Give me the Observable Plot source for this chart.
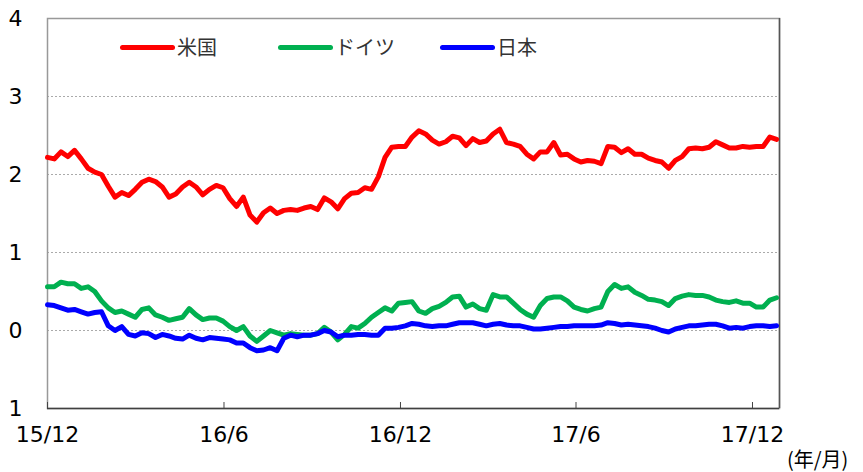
<!DOCTYPE html>
<html><head><meta charset="utf-8">
<script src="https://cdn.jsdelivr.net/npm/d3@7"></script>
<script src="https://cdn.jsdelivr.net/npm/@observablehq/plot@0.6"></script>
<style>
body{margin:0;background:#fff;}
#wrap{position:relative;width:863px;height:472px;overflow:hidden;background:#fff;}
.lg-line{position:absolute;height:5px;border-radius:3px;width:55px;}
.lg-text{position:absolute;font-family:"Noto Sans CJK JP",sans-serif;font-size:20px;color:#333;line-height:24px;}
#unit{position:absolute;left:787px;top:447px;font-family:"Noto Sans CJK JP",sans-serif;font-size:20px;color:#000;line-height:24px;white-space:nowrap;}
</style></head><body><div id="wrap"></div>
<script>
// weekly samples starting at startDate
const startDate = "2015-12-01";
const xEnd = "2017-12-29";
const usa = [2.22,2.20,2.29,2.23,2.31,2.20,2.08,2.03,2.00,1.85,1.71,1.77,1.73,1.81,1.90,1.94,1.91,1.84,1.71,1.75,1.84,1.90,1.84,1.74,1.81,1.86,1.83,1.69,1.59,1.71,1.48,1.39,1.51,1.57,1.50,1.54,1.55,
 1.54,1.57,1.59,1.55,1.70,1.65,1.56,1.69,1.76,1.77,1.83,1.81,1.97,2.22,2.35,2.36,2.36,2.48,2.56,2.52,2.44,2.39,2.42,2.49,2.47,2.37,2.46,2.41,2.43,2.52,2.58,2.41,2.39,2.36,2.26,2.20,
 2.29,2.29,2.41,2.25,2.26,2.20,2.16,2.18,2.17,2.14,2.36,2.35,2.28,2.33,2.26,2.26,2.21,2.18,2.16,2.08,2.18,2.23,2.33,2.34,2.33,2.35,2.42,2.38,2.34,2.34,2.36,2.35,2.36,2.36,2.48,2.45];
const germany = [0.56,0.56,0.62,0.60,0.60,0.54,0.56,0.50,0.38,0.29,0.23,0.25,0.21,0.17,0.27,0.29,0.20,0.17,0.13,0.15,0.17,0.28,0.20,0.14,0.16,0.16,0.12,0.05,0.00,0.05,-0.07,-0.14,-0.07,0.00,-0.03,-0.06,-0.04,
 -0.05,-0.06,-0.06,-0.04,0.04,-0.02,-0.12,-0.05,0.05,0.03,0.09,0.17,0.23,0.29,0.25,0.35,0.36,0.37,0.25,0.22,0.28,0.31,0.36,0.43,0.44,0.30,0.34,0.28,0.26,0.46,0.43,0.43,0.35,0.27,0.21,0.17,
 0.32,0.41,0.43,0.43,0.38,0.30,0.27,0.25,0.28,0.30,0.50,0.59,0.54,0.56,0.49,0.45,0.40,0.39,0.37,0.32,0.41,0.44,0.46,0.45,0.45,0.43,0.39,0.37,0.36,0.38,0.35,0.35,0.30,0.30,0.39,0.42];
const japan = [0.33,0.32,0.29,0.26,0.27,0.24,0.21,0.23,0.24,0.06,0.00,0.05,-0.05,-0.07,-0.03,-0.04,-0.09,-0.05,-0.07,-0.10,-0.11,-0.06,-0.10,-0.12,-0.09,-0.10,-0.11,-0.12,-0.16,-0.16,-0.22,-0.26,-0.25,-0.22,-0.26,-0.10,-0.06,
 -0.08,-0.06,-0.06,-0.04,0.00,-0.02,-0.08,-0.06,-0.06,-0.05,-0.05,-0.06,-0.06,0.03,0.03,0.04,0.06,0.09,0.08,0.06,0.05,0.06,0.06,0.08,0.10,0.10,0.10,0.08,0.06,0.08,0.09,0.07,0.06,0.06,0.04,0.02,
 0.02,0.03,0.04,0.05,0.05,0.06,0.06,0.06,0.06,0.07,0.10,0.09,0.07,0.08,0.07,0.06,0.05,0.03,0.00,-0.02,0.02,0.04,0.06,0.06,0.07,0.08,0.08,0.06,0.03,0.04,0.03,0.05,0.06,0.06,0.05,0.06];
const seriesNames = ["米国","ドイツ","日本"];
const seriesColors = ["#ff0000","#00b050","#0000ff"];
const xTicks = ["2015-12-01","2016-06-01","2016-12-01","2017-06-01","2017-12-01"];
const xTickLabels = ["15/12","16/6","16/12","17/6","17/12"];
const yTicks = [-1,0,1,2,3,4];
const yTickLabels = ["1","0","1","2","3","4"];
const gridTicks = [0,1,2,3];

const start = new Date(startDate);
const seriesValues = [usa, germany, japan];
const rows = [];
seriesValues.forEach((vals, si) => vals.forEach((v, i) => rows.push({name: seriesNames[si], date: d3.utcDay.offset(start, 7 * i), value: v})));
const xTickDates = xTicks.map(d => new Date(d));
const xLab = new Map(xTickDates.map((d, i) => [+d, xTickLabels[i]]));
const yLab = new Map(yTicks.map((d, i) => [d, yTickLabels[i]]));

const chart = Plot.plot({
  width: 863, height: 472,
  marginLeft: 47, marginRight: 84, marginTop: 18, marginBottom: 64,
  style: {fontFamily: "DejaVu Sans, sans-serif", fontSize: "22px", color: "#000", background: "#fff", overflow: "visible"},
  x: {type: "utc", domain: [start, new Date(xEnd)]},
  y: {domain: [-1, 4]},
  color: {domain: seriesNames, range: seriesColors},
  marks: [
    Plot.gridY(gridTicks, {stroke: "#aaa", strokeOpacity: 1, strokeDasharray: "2,2"}),
    Plot.frame({stroke: "#999", strokeWidth: 1.5}),
    Plot.ruleY([-1], {stroke: "#404040", strokeWidth: 1.5}),
    Plot.ruleX([new Date(xEnd)], {stroke: "#555", strokeWidth: 1.5}),
    Plot.tickX(xTickDates, {x: d => d, insetTop: 384, stroke: "#444"}),
    Plot.axisX({ticks: xTickDates, tickSize: 0, tickPadding: 18, label: null, tickFormat: d => xLab.get(+d), fontSize: 22}),
    Plot.axisY({ticks: yTicks, tickSize: 0, tickPadding: 25, label: null, tickFormat: d => yLab.get(d), fontSize: 22}),
    Plot.lineY(rows, {x: "date", y: "value", z: "name", stroke: "name", strokeWidth: 5, strokeLinejoin: "round", strokeLinecap: "round"})
  ]
});
const wrap = document.getElementById("wrap");
wrap.appendChild(chart);

const lgX = [120, 278, 440];
seriesNames.forEach((n, i) => {
  const l = document.createElement("div");
  l.className = "lg-line";
  l.style.left = lgX[i] + "px"; l.style.top = "45px"; l.style.background = seriesColors[i];
  wrap.appendChild(l);
  const t = document.createElement("div");
  t.className = "lg-text";
  t.style.left = (lgX[i] + 57) + "px"; t.style.top = "35px";
  t.textContent = n;
  wrap.appendChild(t);
});
const u = document.createElement("div");
u.id = "unit"; u.textContent = "(年/月)";
wrap.appendChild(u);
</script></body></html>
